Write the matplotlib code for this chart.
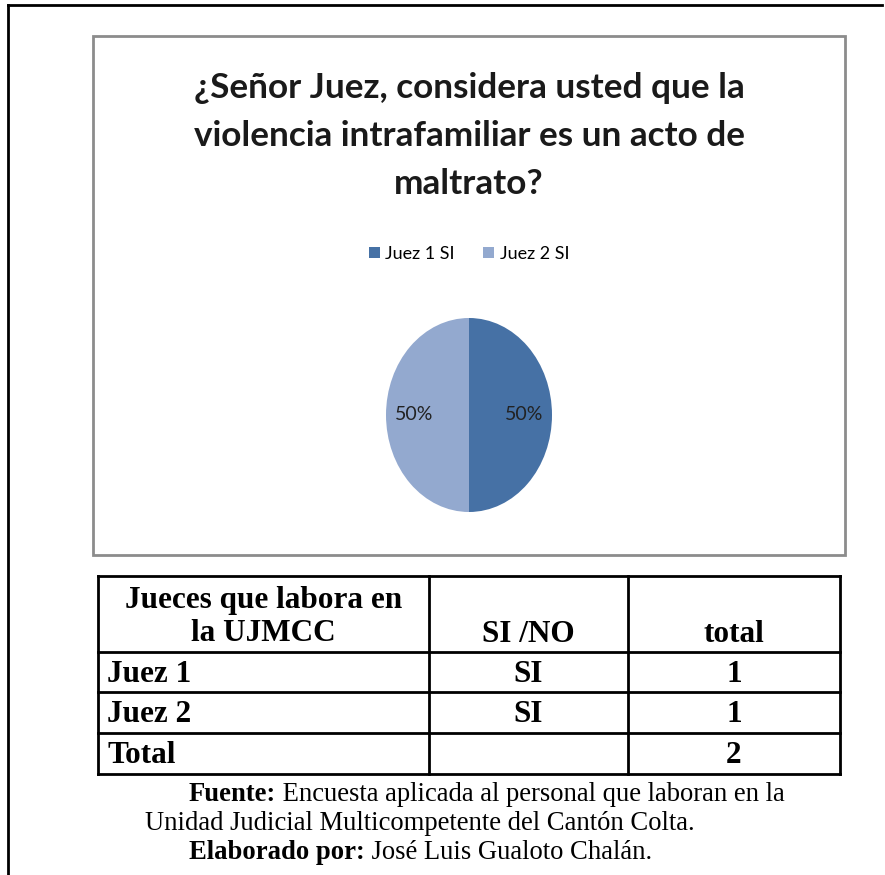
import matplotlib.pyplot as plt

# chart data
title = "¿Señor Juez, considera usted que la\nviolencia intrafamiliar es un acto de\nmaltrato?"
labels = ["Juez 1 SI", "Juez 2 SI"]
values = [1, 1]
colors = ["#4671a5", "#93a9cf"]

# table data
header = ["Jueces que labora en\nla UJMCC", "SI /NO", "total"]
row_names = ["Juez 1", "Juez 2", "Total"]
answers = ["SI", "SI", ""]
totals = ["1", "1", "2"]

W, H = 885, 875
fig = plt.figure(figsize=(W / 100, H / 100), dpi=100)

# page axes in pixel coordinates
page = fig.add_axes([0, 0, 1, 1])
page.set_xlim(0, W)
page.set_ylim(H, 0)
page.axis('off')

# outer frame (top + left)
page.plot([8, 882], [5, 5], color='black', lw=2)
page.plot([8, 8], [5, 875], color='black', lw=2)

# chart box
page.add_patch(plt.Rectangle((93, 36), 752, 519, fill=False, ec='#8c8c8c', lw=2))
page.text(469, 136, title, ha='center', va='center', fontsize=25.3, fontweight='bold',
          family='Lato', linespacing=1.62, color='#1a1a1a')

# pie
pie_ax = fig.add_axes([386 / W, 1 - 512 / H, 166 / W, 194 / H])
wedges, texts, autotexts = pie_ax.pie(values, colors=colors, startangle=90, counterclock=False,
                                      autopct='%1.0f%%', pctdistance=0.66,
                                      textprops=dict(fontsize=14, family='Lato', color='#222222'))
pie_ax.set_xlim(-1, 1)
pie_ax.set_ylim(-1, 1)
pie_ax.set_aspect('auto')

leg = fig.legend(wedges, labels, loc='center', bbox_to_anchor=(469 / W, 1 - 254 / H), ncol=2,
                 frameon=False, handlelength=0.6, handleheight=0.6, handletextpad=0.3,
                 columnspacing=1.6, prop=dict(family='Lato', size=13))

# table
cols = [98, 429, 628, 840]
rows = [576, 652, 692, 733, 774]
for x in cols:
    page.plot([x, x], [rows[0], rows[-1]], color='black', lw=2)
for y in rows:
    page.plot([cols[0], cols[-1]], [y, y], color='black', lw=2)

tfont = dict(family='Liberation Serif', fontweight='bold', fontsize=22.5, color='black')
page.text((cols[0] + cols[1]) / 2, 617, header[0], ha='center', va='center', linespacing=1.22, **tfont)
page.text((cols[1] + cols[2]) / 2, 634, header[1], ha='center', va='center', **tfont)
page.text((cols[2] + cols[3]) / 2, 634, header[2], ha='center', va='center', **tfont)
for i in range(len(row_names)):
    yc = (rows[i + 1] + rows[i + 2]) / 2 + 2
    page.text(cols[0] + 9, yc, row_names[i], ha='left', va='center', **tfont)
    page.text((cols[1] + cols[2]) / 2, yc, answers[i], ha='center', va='center', **tfont)
    page.text((cols[2] + cols[3]) / 2, yc, totals[i], ha='center', va='center', **tfont)

# footer
ffont = dict(family='Liberation Serif', fontsize=19.2, color='black')
t1 = page.text(189, 801, "Fuente:", ha='left', va='baseline', fontweight='bold', **ffont)
page.annotate(" Encuesta aplicada al personal que laboran en la", xy=(1, 0), xycoords=t1,
              ha='left', va='bottom', **ffont)
page.text(145, 830, "Unidad Judicial Multicompetente del Cantón Colta.", ha='left', va='baseline', **ffont)
t3 = page.text(189, 859, "Elaborado por:", ha='left', va='baseline', fontweight='bold', **ffont)
page.annotate(" José Luis Gualoto Chalán.", xy=(1, 0), xycoords=t3,
              ha='left', va='bottom', **ffont)

fig.savefig('out.png', dpi=100)
